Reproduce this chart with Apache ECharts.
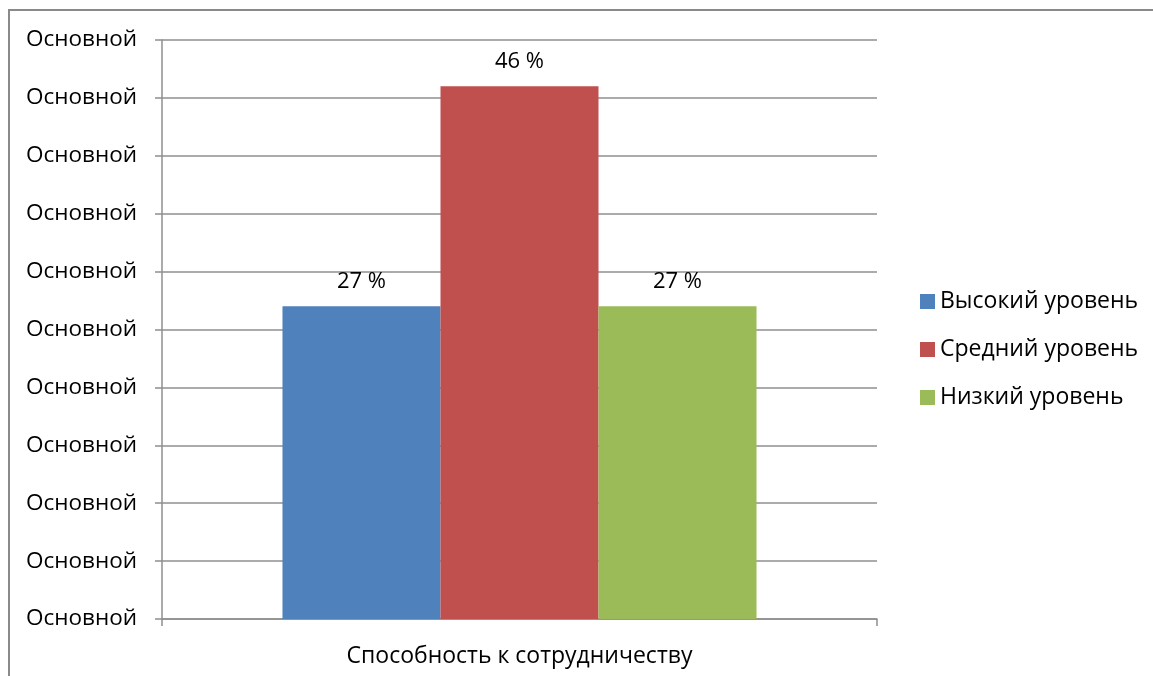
<!DOCTYPE html>
<html><head><meta charset="utf-8">
<script src="https://cdn.jsdelivr.net/npm/echarts@6/dist/echarts.min.js"></script>
<style>html,body{margin:0;padding:0;background:#fff;}#c{width:1153px;height:676px;}</style>
</head><body><div id="c"></div>
<script>
const categories = ['Способность к сотрудничеству'];
const seriesNames = ['Высокий уровень', 'Средний уровень', 'Низкий уровень'];
const highValues = [27];
const midValues = [46];
const lowValues = [27];
const yTickLabel = 'Основной';
const colors = ['#4F81BD', '#C0504D', '#9BBB59'];
const FONT = 'Open Sans';
const chart = echarts.init(document.getElementById('c'));
const mk = (name, data, color) => ({
  name, type: 'bar', data, barGap: '0%', barCategoryGap: '33.7%',
  itemStyle: { color },
  label: { show: true, position: 'top', distance: 14, formatter: p => p.value + ' %',
    fontFamily: FONT, fontSize: 22, color: '#000' }
});
chart.setOption({
  animation: false,
  textStyle: { fontFamily: FONT },
  graphic: [{ type: 'rect', shape: { x: 9, y: 10, width: 1300, height: 800 },
    style: { fill: 'none', stroke: '#8a8a8a', lineWidth: 2 }, silent: true }],
  grid: { left: 162, right: 276, top: 40, bottom: 57 },
  legend: { orient: 'vertical', left: 915, top: 285, itemWidth: 15, itemHeight: 15, itemGap: 25,
    icon: 'rect', textStyle: { fontFamily: FONT, fontSize: 23, color: '#000' },
    data: seriesNames },
  xAxis: { type: 'category', data: categories,
    axisLine: { lineStyle: { color: '#8f8f8f', width: 1.5 } },
    axisTick: { show: true, length: 7, lineStyle: { color: '#8f8f8f', width: 1.5 } },
    axisLabel: { margin: 26, fontFamily: FONT, fontSize: 23, color: '#000' } },
  yAxis: { type: 'value', min: 0, max: 50, interval: 5,
    axisLine: { show: true, lineStyle: { color: '#8f8f8f', width: 1.5 } },
    axisTick: { show: true, length: 7, lineStyle: { color: '#8f8f8f', width: 1.5 } },
    splitLine: { lineStyle: { color: '#8f8f8f', width: 1.5 } },
    axisLabel: { margin: 25, formatter: () => yTickLabel, fontFamily: FONT, fontSize: 22.5, color: '#000', padding: [3, 0, 0, 0] } },
  series: [mk(seriesNames[0], highValues, colors[0]), mk(seriesNames[1], midValues, colors[1]), mk(seriesNames[2], lowValues, colors[2])]
});
</script></body></html>
